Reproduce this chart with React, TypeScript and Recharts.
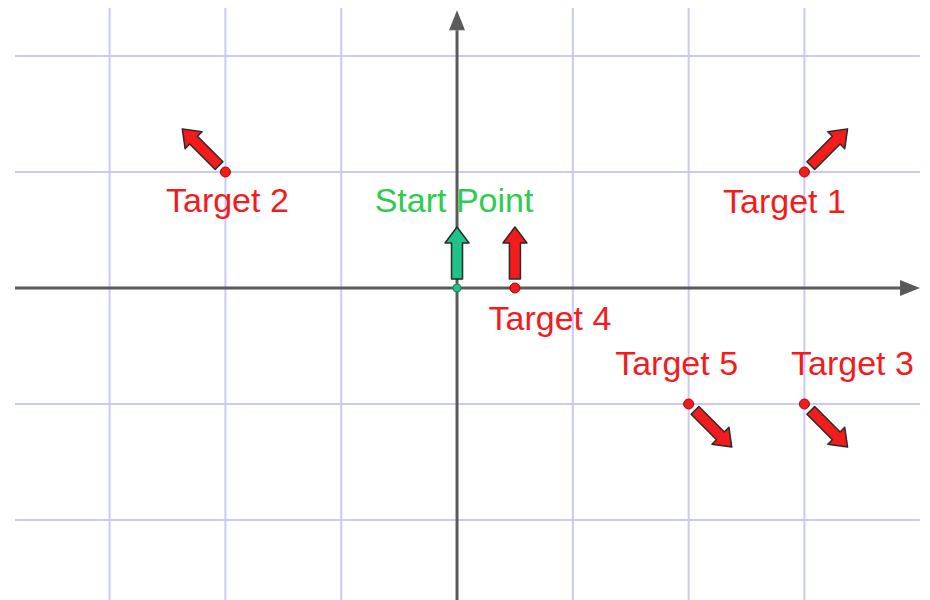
import React from 'react';
import { ScatterChart, Scatter, XAxis, YAxis, ReferenceLine } from 'recharts';

// points on the plane, heading in degrees (0 = east, 90 = north)
const names = ['Start Point', 'Target 1', 'Target 2', 'Target 3', 'Target 4', 'Target 5'];
const xs = [0, 3, -2, 3, 0.5, 2];
const ys = [0, 1, 1, -1, 0, -1];
const headings = [90, 45, 135, -45, 90, -45];

const xTicks = [-3, -2, -1, 1, 2, 3];
const yTicks = [-2, -1, 1, 2];

const X_DOMAIN: [number, number] = [-3.817, 3.998];
const Y_DOMAIN: [number, number] = [-2.69, 2.414];

const RED = '#f21c1c';
const GREEN_TEXT = '#2ccc4e';
const GREEN_ARROW = '#1fc38a';
const GRID = '#c9c9f7';
const AXIS = '#5a5a5a';
const FONT = '"Liberation Sans", Arial, sans-serif';

// label placement relative to the point (pixels)
const labelOffset: Record<string, [number, number]> = {
  'Start Point': [-3, -76],
  'Target 1': [-20, 41],
  'Target 2': [2, 40],
  'Target 3': [48, -29],
  'Target 4': [35, 42],
  'Target 5': [-12, -29],
};

const data = names.map((name, i) => ({ name, x: xs[i], y: ys[i], heading: headings[i] }));

const PointMark = (props: any) => {
  const { cx, cy, payload } = props;
  if (cx == null || cy == null) return null;
  const isStart = payload.name === 'Start Point';
  const fill = isStart ? GREEN_ARROW : RED;
  const [dx, dy] = labelOffset[payload.name] || [0, 40];
  return (
    <g>
      <g transform={`translate(${cx},${cy}) rotate(${-payload.heading})`}>
        <polygon
          points="9,-5.5 45,-5.5 45,-12 61,0 45,12 45,5.5 9,5.5"
          fill={fill}
          stroke="#2a2a2a"
          strokeWidth={1.5}
          strokeLinejoin="round"
        />
      </g>
      <circle cx={cx} cy={cy} r={isStart ? 4 : 5} fill={fill} stroke={isStart ? '#118855' : '#a00'} strokeWidth={1} />
      <text
        x={cx + dx}
        y={cy + dy}
        textAnchor="middle"
        fontFamily={FONT}
        fontSize={34}
        fill={isStart ? GREEN_TEXT : RED}
      >
        {payload.name}
      </text>
    </g>
  );
};

const AxisArrow = (props: any) => {
  const { x1, y1, x2, y2 } = props;
  const len = Math.hypot(x2 - x1, y2 - y1);
  if (!len) return null;
  const ux = (x2 - x1) / len;
  const uy = (y2 - y1) / len;
  const head = 20;
  const half = 8;
  const bx = x2 - ux * head;
  const by = y2 - uy * head;
  return (
    <g>
      <line x1={x1} y1={y1} x2={bx} y2={by} stroke={AXIS} strokeWidth={3} />
      <polygon
        points={`${x2},${y2} ${bx - uy * half},${by + ux * half} ${bx + uy * half},${by - ux * half}`}
        fill={AXIS}
      />
    </g>
  );
};

export default function App() {
  return (
    <div style={{ position: 'absolute', left: 0, top: 0, width: 930, height: 600, background: '#fff' }}>
      <ScatterChart width={930} height={600} margin={{ top: 8, right: 10, bottom: 0, left: 15 }}>
        <XAxis type="number" dataKey="x" domain={X_DOMAIN} allowDataOverflow hide />
        <YAxis type="number" dataKey="y" domain={Y_DOMAIN} allowDataOverflow hide />
        {xTicks.map((t) => (
          <ReferenceLine key={`gx${t}`} x={t} stroke={GRID} strokeWidth={2} />
        ))}
        {yTicks.map((t) => (
          <ReferenceLine key={`gy${t}`} y={t} stroke={GRID} strokeWidth={2} />
        ))}
        <ReferenceLine
          segment={[{ x: X_DOMAIN[0], y: 0 }, { x: X_DOMAIN[1], y: 0 }]}
          shape={AxisArrow}
          ifOverflow="visible"
        />
        <ReferenceLine
          segment={[{ x: 0, y: Y_DOMAIN[0] }, { x: 0, y: Y_DOMAIN[1] - 0.02 }]}
          shape={AxisArrow}
          ifOverflow="visible"
        />
        <Scatter data={data} shape={PointMark} isAnimationActive={false} />
      </ScatterChart>
    </div>
  );
}
